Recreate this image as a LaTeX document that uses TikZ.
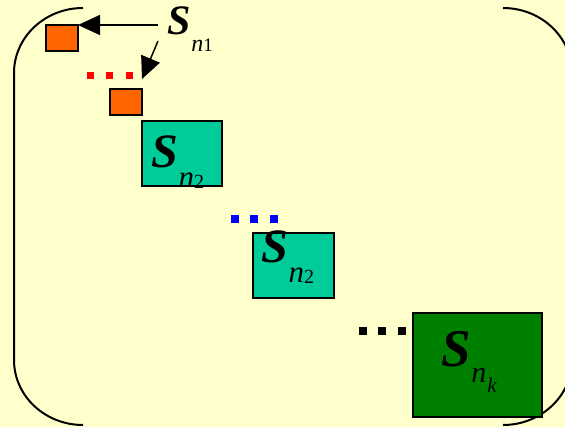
\documentclass[tikz,border=0pt]{standalone}
\usepackage{fontspec}
\setmainfont{Liberation Serif}
\usetikzlibrary{arrows.meta}
\definecolor{bgyellow}{HTML}{FFFFCC}
\definecolor{orangebox}{HTML}{FF6600}
\definecolor{tealbox}{HTML}{00CC99}
\definecolor{greenbox}{HTML}{008000}
\newcommand{\fsz}[1]{\fontsize{#1}{#1}\selectfont}
\tikzset{
  block/.style={draw=black, line width=2pt, inner sep=0pt, outer sep=0pt},
  smallblock/.style={block, fill=orangebox, minimum width=32pt, minimum height=26pt},
  midblock/.style={block, fill=tealbox, minimum width=80pt, minimum height=65pt},
  bigblock/.style={block, fill=greenbox, minimum width=129pt, minimum height=104pt},
  dotsq/.style={inner sep=0pt, outer sep=0pt, minimum size=#1},
  lbl/.style={anchor=base west, inner sep=0pt, outer sep=0pt, text=black},
  bracket/.style={line width=2pt, black},
  ptr/.style={line width=1.5pt, -{Triangle[length=22pt,width=20pt]}}
}
\begin{document}
\begin{tikzpicture}[x=1pt,y=-1pt]
\useasboundingbox (0,0) rectangle (565,427);
\fill[bgyellow] (0,0) rectangle (565,427);
\begin{scope}
\clip (0,0) rectangle (565,427);
% brackets
\draw[bracket] (83,8) .. controls (44.9,8) and (14,37.1) .. (14,73) -- (14,360)
  .. controls (14,395.9) and (44.9,425) .. (83,425);
\draw[bracket] (503,8) .. controls (541.1,8) and (572,37.1) .. (572,73) -- (572,360)
  .. controls (572,395.9) and (541.1,425) .. (503,425);
\end{scope}
% small orange blocks
\node[smallblock] (b1) at (62,38) {};
\node[smallblock] (b2) at (126,102) {};
% red dots
\node[dotsq=7pt, fill=red] (r1) at (90.5,75.5) {};
\node[dotsq=7pt, fill=red] (r2) at (109.5,75.5) {};
\node[dotsq=7pt, fill=red] (r3) at (129.5,75.5) {};
% teal blocks
\node[midblock] (t1) at (182,153.5) {};
\node[midblock, minimum width=81pt] (t2) at (293.5,265.5) {};
% blue dots
\node[dotsq=8pt, fill=blue] (u1) at (235,219) {};
\node[dotsq=8pt, fill=blue] (u2) at (254,219) {};
\node[dotsq=8pt, fill=blue] (u3) at (274,219) {};
% black dots
\node[dotsq=8pt, fill=black] (k1) at (363,331) {};
\node[dotsq=8pt, fill=black] (k2) at (382,331) {};
\node[dotsq=8pt, fill=black] (k3) at (402,331) {};
% green block
\node[bigblock] (g1) at (477.5,365) {};
% labels
\node[lbl] (l1) at (167,35) {\fsz{42}\bfseries\itshape S\mdseries\raisebox{-17pt}{\kern1pt\fsz{24}n\upshape\fsz{19}1}};
\begin{scope}
\clip (0,0) rectangle (565,188);
\node[lbl] (lt1) at (151,168) {\fsz{48}\bfseries\itshape S\mdseries\raisebox{-20pt}{\kern1pt\fsz{31}n}\raisebox{-21pt}{\upshape\fsz{20}2}};
\end{scope}
\node[lbl] (lt2) at (261,263) {\fsz{48}\bfseries\itshape S\mdseries\raisebox{-20pt}{\kern1pt\fsz{31}n}\raisebox{-21pt}{\upshape\fsz{20}2}};
\node[lbl] (lg1) at (441,367) {\fsz{53}\bfseries\itshape S\mdseries\raisebox{-16pt}{\kern1pt\fsz{30}n}\raisebox{-26pt}{\kern1pt\fsz{21}k}};
% pointers
\coordinate (a1s) at (158,25);
\coordinate (a2s) at (158,41);
\coordinate (a2e) at (142,79);
\draw[ptr] (a1s) -- (b1.north east);
\draw[ptr] (a2s) -- (a2e);
\end{tikzpicture}
\end{document}
